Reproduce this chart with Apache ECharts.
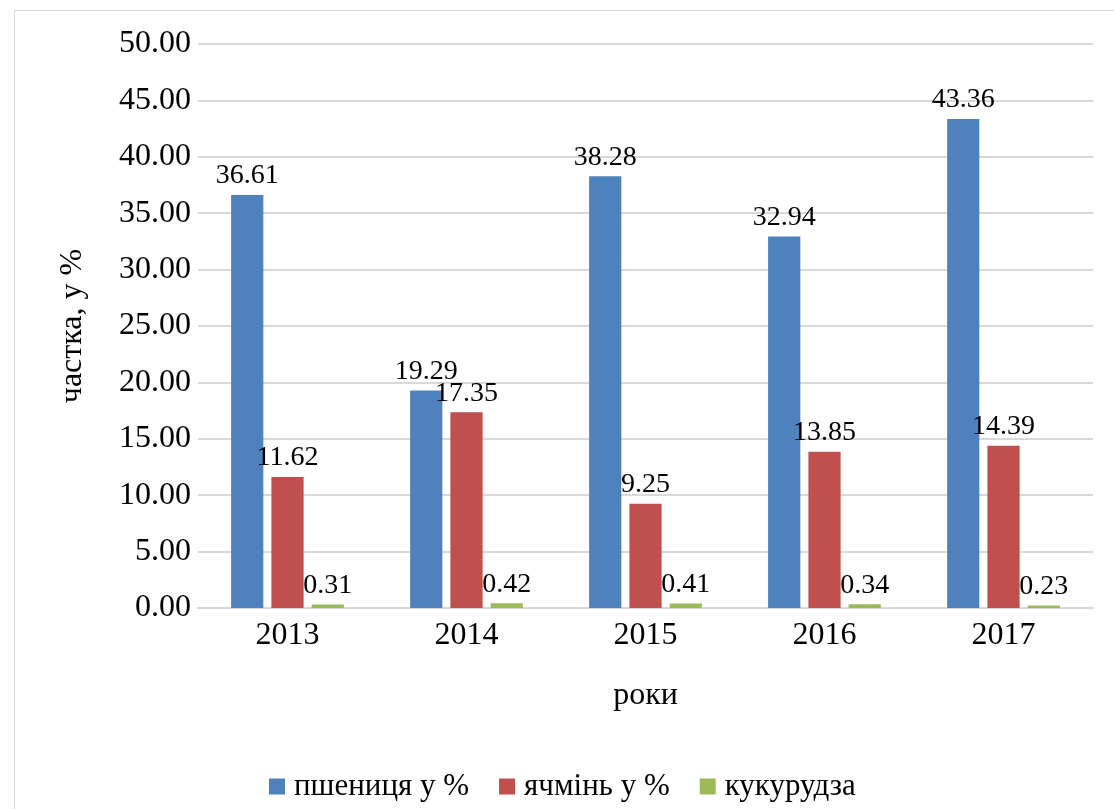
<!DOCTYPE html>
<html>
<head>
<meta charset="utf-8">
<script src="https://cdn.jsdelivr.net/npm/echarts@6/dist/echarts.min.js"></script>
<style>
  html, body { margin: 0; padding: 0; background: #fff; }
  #frame { position: absolute; left: 14px; top: 10px; width: 1120px; height: 820px; border: 1px solid #d9d9d9; box-sizing: border-box; }
  #chart { width: 1114px; height: 809px; position: absolute; left: 0; top: 0; }
</style>
</head>
<body>
<div id="frame"></div>
<div id="chart"></div>
<script>
var years = ['2013', '2014', '2015', '2016', '2017'];
var wheat = [36.61, 19.29, 38.28, 32.94, 43.36];
var barley = [11.62, 17.35, 9.25, 13.85, 14.39];
var corn = [0.31, 0.42, 0.41, 0.34, 0.23];
var seriesNames = ['пшениця у %', 'ячмінь у %', 'кукурудза'];
var colors = ['#4f81bd', '#c0504d', '#9bbb59'];

var font = 'Liberation Serif, Times New Roman, serif';
var chart = echarts.init(document.getElementById('chart'));

function makeSeries(name, data, color) {
    return {
        name: name,
        type: 'bar',
        data: data,
        barGap: '25%',
        barCategoryGap: '37%',
        itemStyle: { color: color },
        label: {
            show: true,
            position: 'top',
            distance: 5,
            color: '#000',
            fontFamily: font,
            fontSize: 28,
            formatter: function (p) { return p.value.toFixed(2); }
        }
    };
}

chart.setOption({
    backgroundColor: 'transparent',
    animation: false,
    color: colors,
    grid: { left: 198, right: 21, top: 44, bottom: 201, containLabel: false },
    legend: {
        bottom: 2,
        left: 264,
        itemWidth: 16,
        itemHeight: 16,
        itemGap: 30,
        icon: 'rect',
        textStyle: { fontFamily: font, fontSize: 31, color: '#000', padding: [0, 0, 0, 4] },
        data: seriesNames
    },
    xAxis: {
        type: 'category',
        data: years,
        name: 'роки',
        nameLocation: 'middle',
        nameGap: 72,
        nameTextStyle: { fontFamily: font, fontSize: 32, color: '#000' },
        axisTick: { show: false },
        axisLine: { lineStyle: { color: '#d9d9d9', width: 2 } },
        axisLabel: { fontFamily: font, fontSize: 32, color: '#000', margin: 12 }
    },
    yAxis: {
        type: 'value',
        min: 0,
        max: 50,
        interval: 5,
        name: 'частка, у %',
        nameLocation: 'middle',
        nameGap: 109,
        nameRotate: 90,
        nameTextStyle: { fontFamily: font, fontSize: 32, color: '#000' },
        axisLine: { show: false },
        axisTick: { show: false },
        splitLine: { lineStyle: { color: '#d9d9d9', width: 2 } },
        axisLabel: {
            fontFamily: font, fontSize: 32, color: '#000', margin: 7,
            formatter: function (v) { return v.toFixed(2); }
        }
    },
    series: [
        makeSeries(seriesNames[0], wheat, colors[0]),
        makeSeries(seriesNames[1], barley, colors[1]),
        makeSeries(seriesNames[2], corn, colors[2])
    ]
});
</script>
</body>
</html>
